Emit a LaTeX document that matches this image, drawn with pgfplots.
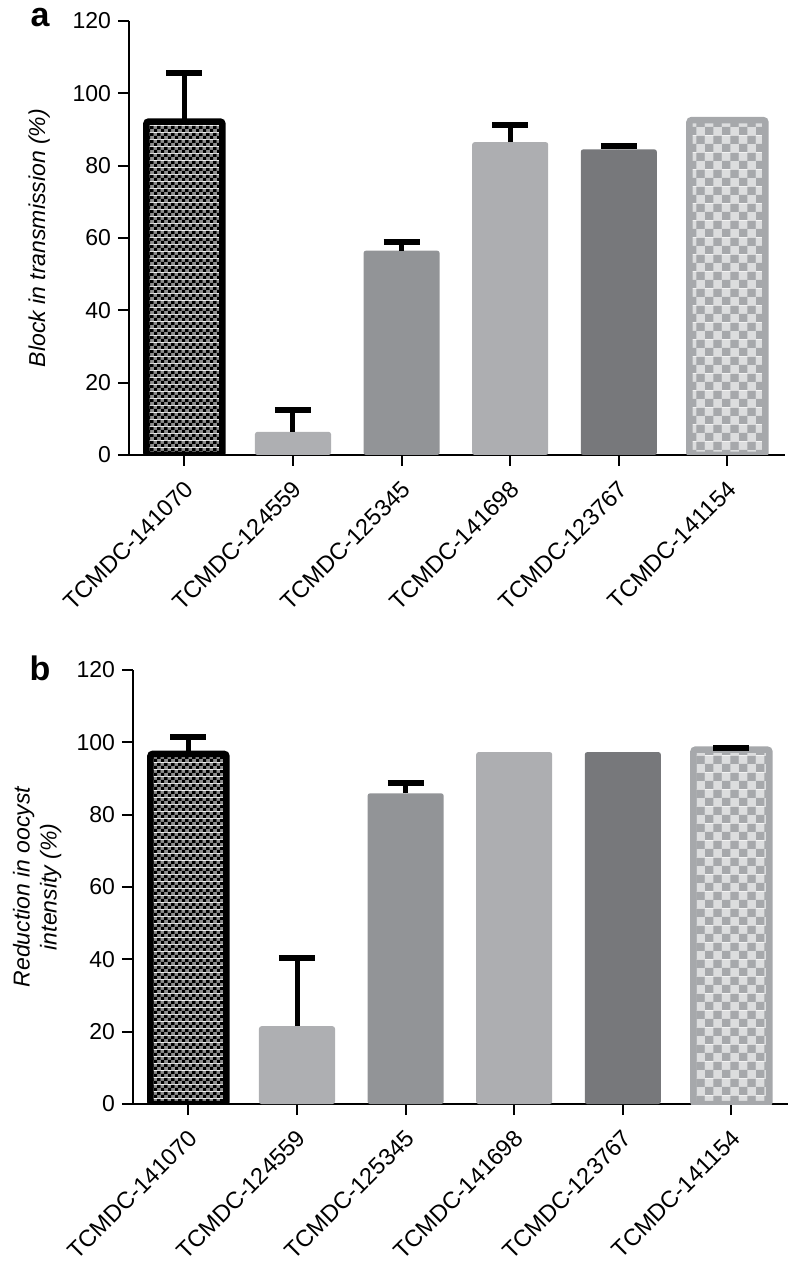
\documentclass[border=0pt]{standalone}
\usepackage{fontspec}
\setmainfont{Liberation Sans}
\usepackage{pgfplots}
\pgfplotsset{compat=1.18}
\usetikzlibrary{patterns}
\definecolor{checkgray}{HTML}{8E8E8E}
\definecolor{cA}{HTML}{AEAFB2}
\definecolor{cB}{HTML}{929497}
\definecolor{cC}{HTML}{ADAEB1}
\definecolor{cD}{HTML}{77787B}
\definecolor{lchkA}{HTML}{A6A8AB}
\definecolor{lchkB}{HTML}{DCDDDE}
\pgfdeclarepatterninherentlycolored{darkchecker}{\pgfpointorigin}{\pgfqpoint{3.5pt}{3.5pt}}{\pgfqpoint{3.5pt}{3.5pt}}{%
  \pgfsetfillcolor{checkgray}\pgfpathrectangle{\pgfpointorigin}{\pgfqpoint{3.5pt}{3.5pt}}\pgfusepath{fill}%
  \pgfsetfillcolor{black}\pgfpathrectangle{\pgfpointorigin}{\pgfqpoint{1.75pt}{1.75pt}}%
  \pgfpathrectangle{\pgfqpoint{1.75pt}{1.75pt}}{\pgfqpoint{1.75pt}{1.75pt}}\pgfusepath{fill}}
\pgfdeclarepatterninherentlycolored{lightchecker}{\pgfpointorigin}{\pgfqpoint{8.6pt}{8.6pt}}{\pgfqpoint{8.6pt}{8.6pt}}{%
  \pgfsetfillcolor{lchkB}\pgfpathrectangle{\pgfpointorigin}{\pgfqpoint{8.6pt}{8.6pt}}\pgfusepath{fill}%
  \pgfsetfillcolor{lchkA}\pgfpathrectangle{\pgfpointorigin}{\pgfqpoint{4.3pt}{4.3pt}}%
  \pgfpathrectangle{\pgfqpoint{4.3pt}{4.3pt}}{\pgfqpoint{4.3pt}{4.3pt}}\pgfusepath{fill}}
\newcommand{\fsz}{\fontsize{11.5}{13.5}\selectfont}
\pgfplotsset{
  mypanel/.style={
    scale only axis, width=328pt, height=217pt,
    xmin=-0.51, xmax=5.53, ymin=0, ymax=120,
    ytick={0,20,...,120}, xtick={0,...,5},
    xticklabels={TCMDC-141070,TCMDC-124559,TCMDC-125345,TCMDC-141698,TCMDC-123767,TCMDC-141154},
    axis lines=left, axis line style={-, line width=1pt},
    tick style={line width=1pt, black}, tick align=outside, major tick length=5.5pt,
    /pgf/number format/assume math mode=true,
    tick label style={font=\fsz},
    xticklabel style={rotate=45, anchor=north east, inner sep=2pt, xshift=-3pt, yshift=-2pt,
      font=\fontsize{11.75}{14}\selectfont},
    label style={font=\fsz\itshape},
  },
  cbar/.style={ybar, bar width=0.7, bar shift=0pt, rounded corners=1.2pt},
  eb/.style={error bars/.cd, y dir=plus, y explicit, error mark=|,
    error bar style={line width=2.5pt, black, rounded corners=0pt},
    error mark options={line width=3pt, mark size=9pt, black, rounded corners=0pt}},
}
\begin{document}
\begin{tikzpicture}
\path[use as bounding box] (0,0) rectangle (394pt,633pt);
\node[font=\bfseries\fontsize{17}{17}\selectfont] at (20pt,624pt) {a};
\node[font=\bfseries\fontsize{17}{17}\selectfont] at (20pt,299pt) {b};
\begin{axis}[mypanel, at={(64.5pt,405.5pt)}, anchor=south west,
  ylabel={Block in transmission (\%)},
  ylabel style={at={(axis description cs:-0.137,0.5)}, anchor=center}]
\addplot[cbar, pattern=darkchecker, draw=black, line width=3.25pt, eb] coordinates {(0,92.2) +- (0,13.3)};
\addplot[cbar, fill=cA, draw=none, eb] coordinates {(1,6.4) +- (0,6.0)};
\addplot[cbar, fill=cB, draw=none, eb] coordinates {(2,56.5) +- (0,2.5)};
\addplot[cbar, fill=cC, draw=none, eb] coordinates {(3,86.5) +- (0,4.8)};
\addplot[cbar, fill=cD, draw=none, eb] coordinates {(4,84.5) +- (0,0.8)};
\addplot[cbar, pattern=lightchecker, draw=lchkA, line width=3.25pt] coordinates {(5,92.6)};
\end{axis}
\begin{axis}[mypanel, at={(66.5pt,81pt)}, anchor=south west,
  ylabel={Reduction in oocyst\\intensity (\%)},
  ylabel style={at={(axis description cs:-0.146,0.5)}, anchor=center, align=center}]
\addplot[cbar, pattern=darkchecker, draw=black, line width=3.25pt, eb] coordinates {(0,96.8) +- (0,4.7)};
\addplot[cbar, fill=cA, draw=none, eb] coordinates {(1,21.5) +- (0,19.0)};
\addplot[cbar, fill=cB, draw=none, eb] coordinates {(2,85.9) +- (0,2.8)};
\addplot[cbar, fill=cC, draw=none] coordinates {(3,97.3)};
\addplot[cbar, fill=cD, draw=none] coordinates {(4,97.3)};
\addplot[cbar, pattern=lightchecker, draw=lchkA, line width=3.25pt, eb] coordinates {(5,98.0) +- (0,0.5)};
\end{axis}
\end{tikzpicture}
\end{document}
